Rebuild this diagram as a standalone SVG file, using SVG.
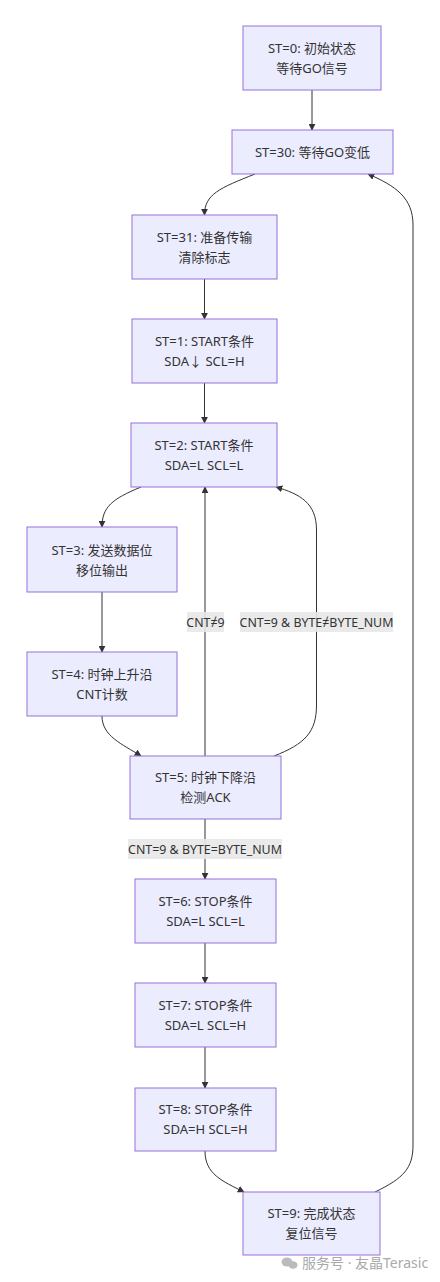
<svg xmlns="http://www.w3.org/2000/svg" width="440" height="1282" viewBox="0 0 440 1282">
<style>
.node rect{fill:#ECECFF;stroke:#9370DB;stroke-width:1}
.node text,.lbl text{font-family:"Noto Sans","Noto Sans CJK SC",sans-serif;font-size:13px;fill:#333;text-anchor:middle}
.lbl text{font-size:12.4px}
.edge{fill:none;stroke:#333;stroke-width:1}
.lbl rect{fill:#e8e8e8;opacity:0.9}
.wm{font-family:"Noto Sans","Noto Sans CJK SC",sans-serif;font-size:14px;fill:#aaa}
</style>
<defs>
<marker id="arr" viewBox="0 0 10 10" refX="9" refY="5" markerWidth="7" markerHeight="7" markerUnits="userSpaceOnUse" orient="auto">
<path d="M0,0 L10,5 L0,10 z" fill="#333"/>
</marker>
</defs>
<rect width="440" height="1282" fill="#fff"/>
<g id="connectors">
<path class="edge" d="M312,90 L312,130" marker-end="url(#arr)"/>
<path class="edge" d="M255,174 C220,188 204.5,194 204.5,215" marker-end="url(#arr)"/>
<path class="edge" d="M204.5,279 L204.5,319" marker-end="url(#arr)"/>
<path class="edge" d="M204.5,383 L204.5,423" marker-end="url(#arr)"/>
<path class="edge" d="M141,487 C112,499 102,507 102,527" marker-end="url(#arr)"/>
<path class="edge" d="M102,592 L102,652" marker-end="url(#arr)"/>
<path class="edge" d="M102,716 C102,736 122,744 141,756" marker-end="url(#arr)"/>
<path class="edge" d="M205,756 L205,487" marker-end="url(#arr)"/>
<path class="edge" d="M274,756 C305,744 316.5,732 316.5,705 L316.5,530 C316.5,503 300,494 276,487" marker-end="url(#arr)"/>
<path class="edge" d="M205,819 L205,879" marker-end="url(#arr)"/>
<path class="edge" d="M205,943 L205,983" marker-end="url(#arr)"/>
<path class="edge" d="M205,1047 L205,1088" marker-end="url(#arr)"/>
<path class="edge" d="M205,1151 C205,1174 222,1181 244,1192" marker-end="url(#arr)"/>
<path class="edge" d="M375,1192 C404,1178 413,1168 413,1145 L413,225 C413,198 396,186 368,174" marker-end="url(#arr)"/>
</g>
<g id="labels">
<g class="lbl"><rect x="187" y="612" width="37" height="20"/><text x="205.5" y="626.5">CNT≠9</text></g>
<g class="lbl"><rect x="240" y="612" width="153" height="20"/><text x="316.5" y="626.5">CNT=9 &amp; BYTE≠BYTE_NUM</text></g>
<g class="lbl"><rect x="128" y="839" width="154" height="20"/><text x="205" y="853.5">CNT=9 &amp; BYTE=BYTE_NUM</text></g>
</g>
<g id="n0" class="node"><rect x="243" y="26" width="138" height="64"/><text x="312" y="53">ST=0: 初始状态</text><text x="312" y="73">等待GO信号</text></g>
<g id="n30" class="node"><rect x="232" y="130" width="161" height="44"/><text x="312.5" y="157">ST=30: 等待GO变低</text></g>
<g id="n31" class="node"><rect x="132" y="215" width="145" height="64"/><text x="204.5" y="242">ST=31: 准备传输</text><text x="204.5" y="262">清除标志</text></g>
<g id="n1" class="node"><rect x="132" y="319" width="145" height="64"/><text x="204.5" y="346">ST=1: START条件</text><text x="204.5" y="366">SDA↓ SCL=H</text></g>
<g id="n2" class="node"><rect x="131" y="423" width="146" height="64"/><text x="204" y="450">ST=2: START条件</text><text x="204" y="470">SDA=L SCL=L</text></g>
<g id="n3" class="node"><rect x="27" y="527" width="150" height="65"/><text x="102" y="555">ST=3: 发送数据位</text><text x="102" y="575">移位输出</text></g>
<g id="n4" class="node"><rect x="27" y="652" width="150" height="64"/><text x="102" y="679">ST=4: 时钟上升沿</text><text x="102" y="699">CNT计数</text></g>
<g id="n5" class="node"><rect x="130" y="756" width="151" height="63"/><text x="205.5" y="782">ST=5: 时钟下降沿</text><text x="205.5" y="802">检测ACK</text></g>
<g id="n6" class="node"><rect x="135" y="879" width="141" height="64"/><text x="205.5" y="906">ST=6: STOP条件</text><text x="205.5" y="926">SDA=L SCL=L</text></g>
<g id="n7" class="node"><rect x="135" y="983" width="141" height="64"/><text x="205.5" y="1010">ST=7: STOP条件</text><text x="205.5" y="1030">SDA=L SCL=H</text></g>
<g id="n8" class="node"><rect x="135" y="1088" width="141" height="63"/><text x="205.5" y="1114">ST=8: STOP条件</text><text x="205.5" y="1134">SDA=H SCL=H</text></g>
<g id="n9" class="node"><rect x="243" y="1192" width="137" height="63"/><text x="311.5" y="1218">ST=9: 完成状态</text><text x="311.5" y="1238">复位信号</text></g>
<g id="watermark">
<ellipse cx="287" cy="1262" rx="5.5" ry="4.5" fill="#bbb"/>
<ellipse cx="293" cy="1265" rx="4.5" ry="3.8" fill="#bbb"/>
<text class="wm" x="302" y="1268">服务号 · 友晶Terasic</text>
</g>
</svg>
